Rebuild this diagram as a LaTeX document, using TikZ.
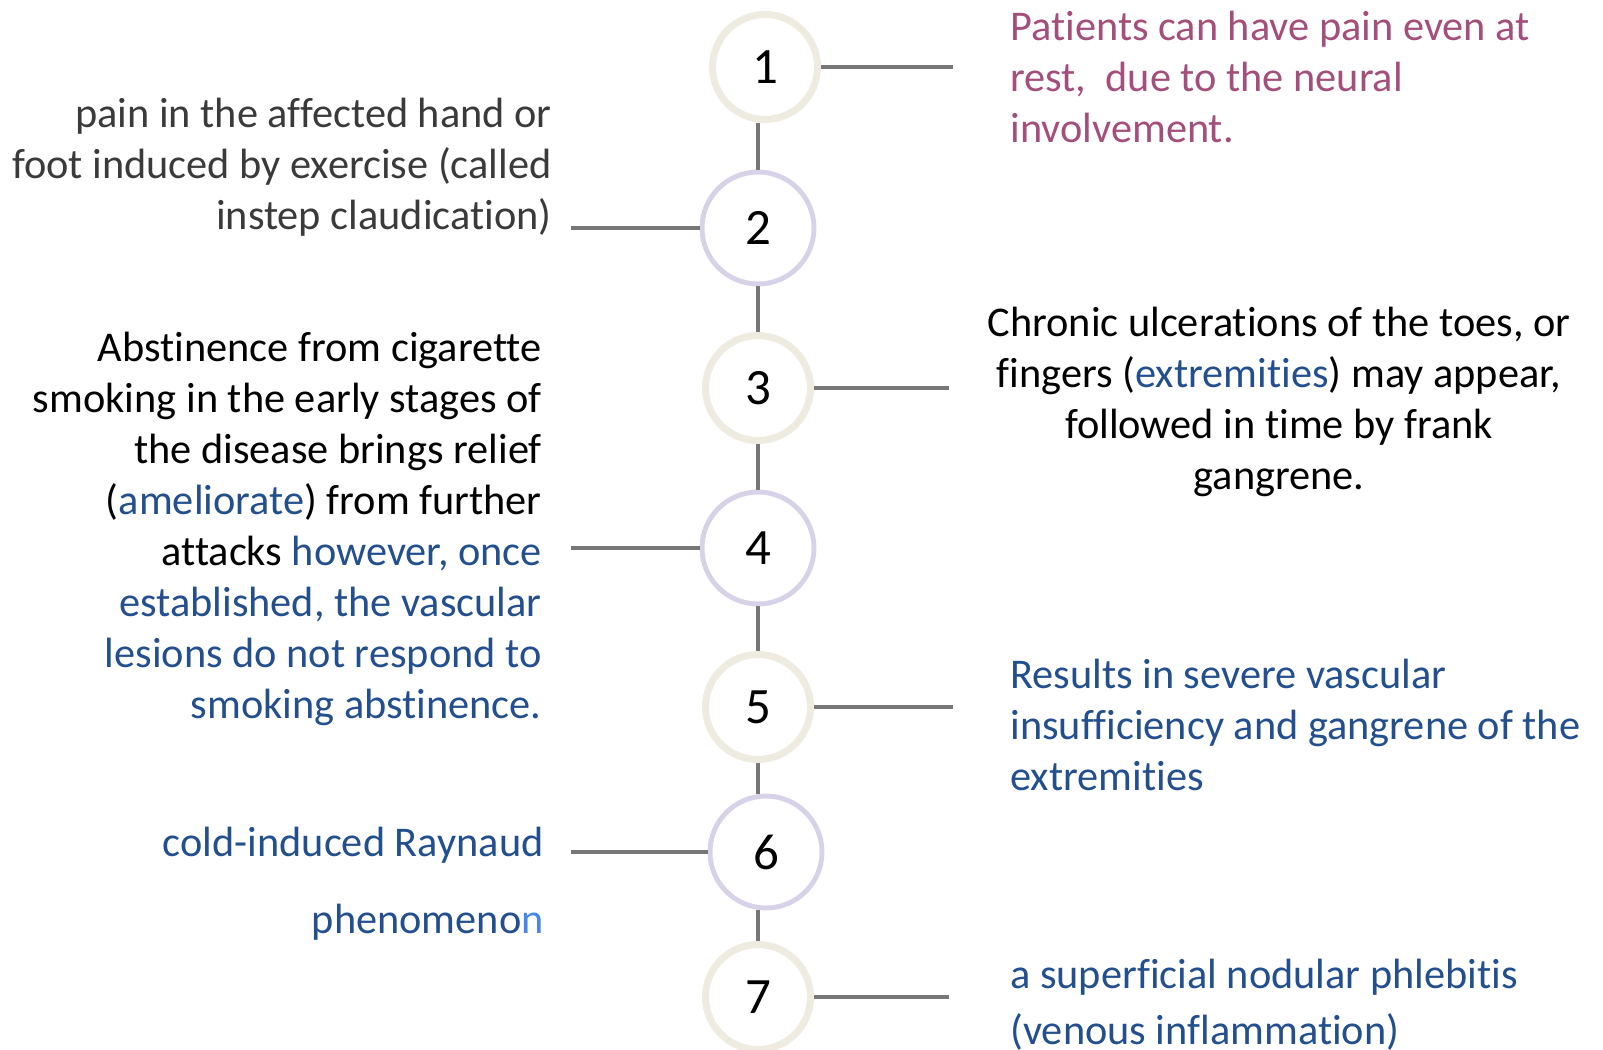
\documentclass[tikz,border=0pt]{standalone}
\usepackage{fontspec}
\setmainfont{Carlito}[Ligatures=NoCommon]
\usetikzlibrary{positioning}
\definecolor{beige}{HTML}{EEECE1}
\definecolor{lilac}{HTML}{D8D2E8}
\definecolor{stem}{HTML}{777777}
\definecolor{rose}{HTML}{A44F7B}
\definecolor{navy}{HTML}{234F8E}
\definecolor{sky}{HTML}{4A86E8}
\definecolor{ink}{HTML}{3A3A3A}

\begin{document}
\begin{tikzpicture}[
    x=0.02cm, y=-0.02cm,
    stage/.style={circle, fill=white, inner sep=0pt,
                  font=\fontsize{29}{32}\selectfont},
    beigering/.style={stage, draw=beige, line width=4pt, minimum size=2.1cm},
    lilacring/.style={stage, draw=lilac, line width=2.8pt, minimum size=2.24cm},
    link/.style={draw=stem, line width=2.2pt},
    note/.style={inner sep=0pt, font=\fontsize{24.1}{29}\selectfont}
  ]
  \useasboundingbox (0,0) rectangle (1603,1049);

  \node[beigering] (s1) at (765,67) {1};
  \node[lilacring] (s2) at (758,228) {2};
  \node[beigering] (s3) at (758,388) {3};
  \node[lilacring] (s4) at (758,548) {4};
  \node[beigering] (s5) at (758,707) {5};
  \node[lilacring] (s6) at (766,852) {6};
  \node[beigering] (s7) at (758,997) {7};

  \draw[link] (s2 |- s1.south) -- (s2.north);
  \draw[link] (s2.south) -- (s3.north);
  \draw[link] (s3.south) -- (s4.north);
  \draw[link] (s4.south) -- (s5.north);
  \draw[link] (s5.south) -- (s5 |- s6.north);
  \draw[link] (s7 |- s6.south) -- (s7.north);

  \coordinate (r1) at (953,67);
  \coordinate (l2) at (571,228);
  \coordinate (r3) at (949,388);
  \coordinate (l4) at (571,548);
  \coordinate (r5) at (953,707);
  \coordinate (l6) at (571,852);
  \coordinate (r7) at (949,997);
  \draw[link] (s1.east) -- (r1);
  \draw[link] (l2) -- (s2.west);
  \draw[link] (s3.east) -- (r3);
  \draw[link] (l4) -- (s4.west);
  \draw[link] (s5.east) -- (r5);
  \draw[link] (l6) -- (s6.west);
  \draw[link] (s7.east) -- (r7);

  \node[note, anchor=base west, align=left, text=rose] (t1) at (1010,142)
    {Patients can have pain even at\\rest,\ \ due to the neural\\involvement.};
  \node[note, anchor=base east, align=right, text=ink] (t2) at (552,229)
    {pain in the affected hand or\\foot induced by exercise (called\\instep claudication)};
  \node[note, anchor=base, align=center, text=black] (t3) at (1279,489)
    {Chronic ulcerations of the toes, or\\fingers (\textcolor{navy}{extremities}) may appear,\\followed in time by frank\\gangrene.};
  \node[note, anchor=base east, align=right, text=black] (t4) at (542,718)
    {Abstinence from cigarette\\smoking in the early stages of\\the disease brings relief\\(\textcolor{navy}{ameliorate}) from further\\attacks \textcolor{navy}{however, once}\\\textcolor{navy}{established, the vascular}\\\textcolor{navy}{lesions do not respond to}\\\textcolor{navy}{smoking abstinence.}};
  \node[note, anchor=base west, align=left, text=navy] (t5) at (1010,790)
    {Results in severe vascular\\insufficiency and gangrene of the\\extremities};
  \node[note, anchor=base east, align=right, text=navy] (t6) at (544,933)
    {cold-induced Raynaud\\[0.52cm]phenomeno\textcolor{sky}{n}};
  \node[note, anchor=base west, align=left, text=navy] (t7) at (1010,1044)
    {a superficial nodular phlebitis\\[0.1cm](venous inflammation)};
\end{tikzpicture}
\end{document}
